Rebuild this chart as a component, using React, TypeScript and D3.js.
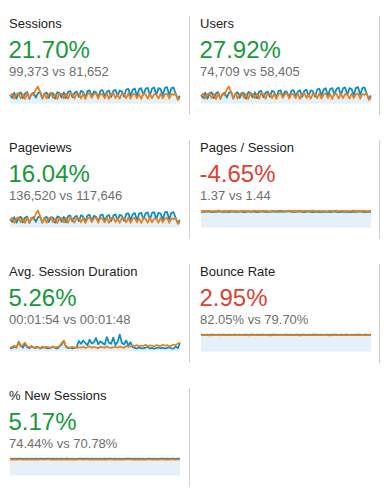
import * as d3 from 'd3';

// ── Sparkline data (current period = blue, previous period = orange) ────────
const sessionsCur = [260, 170, 330, 150, 300, 340, 160, 310, 350, 140, 290, 330, 180, 320, 360, 150, 300, 340, 170, 330, 310, 150, 350, 320, 180, 340, 160, 360, 380, 190, 330, 370, 200, 390, 350, 180, 380, 400, 210, 370, 340, 190, 390, 410, 220, 360, 400, 200, 380, 420, 230, 400, 370, 210, 430, 450, 240, 420, 460, 230, 440, 470, 260, 450, 480, 250, 460, 490, 270, 470, 440, 250, 480, 500, 260, 470, 490, 300, 150, 240];
const sessionsPrev = [220, 300, 150, 280, 320, 160, 290, 140, 310, 170, 300, 250, 430, 520, 340, 160, 300, 150, 290, 320, 170, 280, 140, 310, 290, 160, 300, 150, 320, 280, 150, 310, 290, 160, 300, 140, 280, 320, 170, 290, 310, 150, 300, 270, 160, 310, 140, 290, 320, 170, 280, 150, 300, 290, 160, 310, 150, 280, 300, 160, 290, 140, 310, 280, 150, 300, 160, 290, 270, 150, 300, 160, 280, 300, 150, 290, 260, 310, 110, 170];

const usersCur = [195, 125, 245, 110, 225, 255, 120, 230, 260, 105, 215, 245, 135, 240, 270, 110, 225, 255, 125, 245, 230, 110, 260, 240, 135, 255, 120, 270, 285, 140, 245, 275, 150, 290, 260, 135, 285, 300, 155, 275, 255, 140, 290, 305, 165, 270, 300, 150, 285, 315, 170, 300, 275, 155, 320, 335, 180, 315, 345, 170, 330, 350, 195, 335, 360, 185, 345, 365, 200, 350, 330, 185, 355, 370, 195, 350, 365, 220, 110, 180];
const usersPrev = [165, 225, 110, 210, 240, 120, 215, 105, 230, 125, 225, 185, 320, 385, 255, 120, 225, 110, 215, 240, 125, 210, 105, 230, 215, 120, 225, 110, 240, 210, 110, 230, 215, 120, 225, 105, 210, 240, 125, 215, 230, 110, 225, 200, 120, 230, 105, 215, 240, 125, 210, 110, 225, 215, 120, 230, 110, 210, 225, 120, 215, 105, 230, 210, 110, 225, 120, 215, 200, 110, 225, 120, 210, 225, 110, 215, 195, 230, 80, 125];

const pageviewsCur = [350, 230, 440, 200, 400, 455, 215, 415, 470, 190, 390, 440, 240, 430, 480, 200, 400, 455, 230, 440, 415, 200, 470, 430, 240, 455, 215, 480, 510, 255, 440, 495, 270, 520, 470, 240, 510, 535, 280, 495, 455, 255, 520, 550, 295, 480, 535, 270, 510, 560, 310, 535, 495, 280, 575, 600, 320, 560, 615, 310, 590, 625, 350, 600, 640, 335, 615, 655, 360, 625, 590, 335, 640, 660, 350, 625, 650, 400, 200, 320];
const pageviewsPrev = [300, 410, 200, 380, 430, 215, 390, 190, 420, 230, 410, 340, 580, 720, 460, 215, 410, 200, 390, 430, 230, 380, 190, 420, 390, 215, 410, 200, 430, 380, 200, 420, 390, 215, 410, 190, 380, 430, 230, 390, 420, 200, 410, 365, 215, 420, 190, 390, 430, 230, 380, 200, 410, 390, 215, 420, 200, 380, 410, 215, 390, 190, 420, 380, 200, 410, 215, 390, 365, 200, 410, 215, 380, 410, 200, 390, 350, 420, 150, 230];

const pagesPerSessionCur = [1.36, 1.38, 1.35, 1.39, 1.37, 1.34, 1.38, 1.36, 1.40, 1.37, 1.35, 1.38, 1.36, 1.33, 1.37, 1.39, 1.36, 1.35, 1.38, 1.37, 1.34, 1.36, 1.39, 1.35, 1.37, 1.38, 1.34, 1.36, 1.40, 1.37, 1.35, 1.38, 1.36, 1.39, 1.37, 1.35, 1.38, 1.41, 1.36, 1.37, 1.39, 1.42, 1.36, 1.38, 1.35, 1.37, 1.39, 1.36, 1.34, 1.37, 1.38, 1.36, 1.33, 1.35, 1.37, 1.34, 1.36, 1.38, 1.35, 1.37, 1.34, 1.36, 1.39, 1.35, 1.33, 1.36, 1.38, 1.35, 1.37, 1.34, 1.36, 1.38, 1.35, 1.37, 1.40, 1.36, 1.34, 1.37, 1.35, 1.38];
const pagesPerSessionPrev = [1.43, 1.45, 1.42, 1.46, 1.44, 1.41, 1.45, 1.43, 1.47, 1.44, 1.42, 1.45, 1.43, 1.46, 1.44, 1.42, 1.45, 1.43, 1.41, 1.44, 1.46, 1.43, 1.45, 1.42, 1.44, 1.47, 1.43, 1.45, 1.42, 1.44, 1.46, 1.43, 1.41, 1.44, 1.45, 1.43, 1.46, 1.48, 1.44, 1.42, 1.45, 1.47, 1.43, 1.45, 1.42, 1.44, 1.46, 1.43, 1.45, 1.44, 1.42, 1.45, 1.47, 1.43, 1.44, 1.46, 1.42, 1.45, 1.43, 1.44, 1.46, 1.42, 1.45, 1.48, 1.43, 1.44, 1.46, 1.42, 1.45, 1.43, 1.44, 1.47, 1.43, 1.45, 1.42, 1.44, 1.46, 1.43, 1.45, 1.44];

// seconds
const durationCur = [70, 80, 110, 90, 230, 140, 90, 180, 100, 75, 120, 95, 80, 110, 70, 90, 100, 80, 75, 95, 110, 85, 70, 120, 160, 250, 110, 80, 95, 70, 85, 100, 250, 180, 260, 200, 150, 280, 190, 220, 320, 170, 240, 200, 160, 340, 210, 180, 330, 150, 230, 400, 200, 170, 260, 140, 220, 100, 85, 70, 95, 80, 75, 90, 110, 70, 85, 65, 80, 95, 75, 90, 70, 85, 100, 75, 65, 120, 80, 200];
const durationPrev = [90, 110, 140, 100, 200, 120, 160, 210, 120, 100, 130, 90, 110, 100, 80, 120, 95, 110, 100, 85, 120, 95, 110, 130, 200, 260, 120, 100, 90, 110, 95, 85, 100, 90, 110, 85, 100, 120, 90, 105, 95, 80, 110, 100, 90, 115, 95, 85, 100, 110, 90, 120, 100, 85, 130, 110, 120, 140, 130, 150, 120, 140, 130, 160, 125, 145, 135, 120, 150, 140, 130, 160, 135, 150, 125, 140, 165, 150, 190, 210];

const bounceCur = [81.6, 82.4, 81.9, 82.8, 81.3, 82.1, 82.6, 81.8, 82.3, 81.5, 82.7, 82.0, 81.7, 82.5, 81.9, 82.2, 83.0, 81.6, 82.1, 81.8, 82.6, 82.3, 81.4, 82.0, 82.7, 81.9, 82.2, 81.6, 82.4, 82.9, 81.8, 82.1, 81.5, 82.3, 82.0, 82.6, 81.7, 82.2, 81.9, 82.8, 82.1, 81.6, 82.4, 81.8, 82.5, 82.0, 81.4, 82.3, 82.7, 81.9, 82.1, 81.6, 82.4, 82.0, 82.8, 81.7, 82.2, 81.9, 82.5, 82.1, 81.5, 82.3, 82.0, 82.6, 81.8, 82.2, 81.6, 82.4, 82.9, 81.9, 82.1, 81.7, 82.3, 82.0, 82.6, 81.8, 82.2, 82.5, 81.9, 82.3];
const bouncePrev = [79.3, 80.1, 79.6, 80.4, 79.0, 79.8, 80.2, 79.5, 79.9, 79.2, 80.3, 79.7, 79.4, 80.0, 79.6, 79.9, 80.5, 79.3, 79.8, 79.5, 80.2, 79.9, 79.1, 79.7, 80.3, 79.6, 79.9, 79.3, 80.1, 80.6, 79.5, 79.8, 79.2, 80.0, 79.7, 80.3, 79.4, 79.9, 79.6, 80.4, 79.8, 79.3, 80.1, 79.5, 80.2, 79.7, 79.1, 80.0, 80.4, 79.6, 79.8, 79.3, 80.1, 79.7, 80.5, 79.4, 79.9, 79.6, 80.2, 79.8, 79.2, 80.0, 79.7, 80.3, 79.5, 79.9, 79.3, 80.1, 80.6, 79.6, 79.8, 79.4, 80.0, 79.7, 80.3, 79.5, 79.9, 80.2, 79.6, 80.0];

const newSessCur = [75.2, 74.1, 74.8, 73.6, 74.5, 75.0, 74.2, 73.9, 74.7, 74.3, 75.1, 73.8, 74.6, 74.0, 74.9, 74.4, 73.7, 74.6, 75.3, 74.1, 74.5, 73.9, 74.8, 74.2, 74.6, 73.8, 74.4, 75.0, 74.1, 74.7, 74.3, 73.9, 74.8, 74.5, 74.0, 74.6, 75.2, 74.2, 74.5, 73.8, 74.7, 74.3, 74.9, 74.1, 74.4, 73.7, 74.6, 75.1, 74.2, 74.5, 74.0, 74.8, 74.3, 73.9, 74.6, 74.4, 75.0, 74.1, 74.5, 73.8, 74.7, 74.2, 74.9, 74.0, 74.4, 74.6, 73.9, 74.8, 74.3, 74.1, 74.7, 74.5, 74.0, 74.6, 74.2, 74.8, 74.4, 73.9, 74.5, 74.7];
const newSessPrev = [71.5, 70.4, 71.1, 70.0, 70.9, 71.4, 70.6, 70.2, 71.0, 70.7, 71.3, 70.1, 70.9, 70.4, 71.2, 70.8, 70.0, 70.9, 71.6, 70.5, 70.8, 70.2, 71.1, 70.6, 70.9, 70.1, 70.7, 71.3, 70.5, 71.0, 70.6, 70.3, 71.1, 70.8, 70.4, 70.9, 71.5, 70.6, 70.8, 70.2, 71.0, 70.7, 71.2, 70.5, 70.8, 70.0, 70.9, 71.4, 70.6, 70.8, 70.4, 71.1, 70.7, 70.3, 70.9, 70.8, 71.3, 70.5, 70.8, 70.2, 71.0, 70.6, 71.2, 70.4, 70.8, 70.9, 70.3, 71.1, 70.7, 70.5, 71.0, 70.8, 70.4, 70.9, 70.6, 71.1, 70.8, 70.3, 70.8, 71.0];

// ── Scorecard labels ────────────────────────────────────────────────────────
const titles = ['Sessions', 'Users', 'Pageviews', 'Pages / Session', 'Avg. Session Duration', 'Bounce Rate', '% New Sessions'];
const changes = ['21.70%', '27.92%', '16.04%', '-4.65%', '5.26%', '2.95%', '5.17%'];
const comparisons = ['99,373 vs 81,652', '74,709 vs 58,405', '136,520 vs 117,646', '1.37 vs 1.44', '00:01:54 vs 00:01:48', '82.05% vs 79.70%', '74.44% vs 70.78%'];
const isGood = [true, true, true, false, true, false, true];
const currentSeries = [sessionsCur, usersCur, pageviewsCur, pagesPerSessionCur, durationCur, bounceCur, newSessCur];
const previousSeries = [sessionsPrev, usersPrev, pageviewsPrev, pagesPerSessionPrev, durationPrev, bouncePrev, newSessPrev];

const W = 388;
const H = 496;
const FONT = '"Liberation Sans", Arial, Helvetica, sans-serif';
const BLUE = '#058dc7';
const ORANGE = '#ed7e17';
const FILL = '#e5f0f9';
const GREEN = '#16993a';
const RED = '#dd4132';

const COL_X = [9, 200];
const ROW_H = 124;
const SPARK_W = 170;

function Card({ i }: { i: number }) {
  const col = i % 2;
  const row = Math.floor(i / 2);
  const x0 = COL_X[col];
  const y0 = row * ROW_H;
  const cur = currentSeries[i];
  const prev = previousSeries[i];

  const top = y0 + 86;
  const bottom = y0 + 103.5;
  const sx0 = x0 + 1;

  const x = d3.scaleLinear().domain([0, cur.length - 1]).range([sx0, sx0 + SPARK_W]);
  const yMax = Math.max(d3.max(cur) ?? 1, d3.max(prev) ?? 1);
  const y = d3.scaleLinear().domain([0, yMax]).range([bottom, top + 0.5]);

  const area = d3.area<number>().x((_, j) => x(j)).y0(bottom).y1(d => y(d));
  const line = d3.line<number>().x((_, j) => x(j)).y(d => y(d));

  const sepX = col === 0 ? 189.5 : 379.5;

  return (
    <g>
      <line x1={sepX} x2={sepX} y1={y0 + 16} y2={y0 + 115} stroke="#cfcfcf" strokeWidth={1} />
      <text x={x0} y={y0 + 28} fontSize={13} fill="#222" fontFamily={FONT}>{titles[i]}</text>
      <text x={x0 - 0.5} y={y0 + 58} fontSize={24} fill={isGood[i] ? GREEN : RED} fontFamily={FONT}>{changes[i]}</text>
      <text x={x0} y={y0 + 76} fontSize={13} fill="#6e6e6e" fontFamily={FONT}>{comparisons[i]}</text>
      <path d={area(cur) ?? ''} fill={FILL} />
      <path d={line(cur) ?? ''} fill="none" stroke={BLUE} strokeWidth={1.7} strokeLinejoin="round" />
      <path d={line(prev) ?? ''} fill="none" stroke={ORANGE} strokeWidth={1.7} strokeLinejoin="round" />
    </g>
  );
}

export default function App() {
  return (
    <div style={{ position: 'absolute', left: 0, top: 0, width: W, height: H, background: '#fff' }}>
      <svg width={W} height={H} style={{ display: 'block' }}>
        {titles.map((_, i) => <Card key={i} i={i} />)}
      </svg>
    </div>
  );
}
